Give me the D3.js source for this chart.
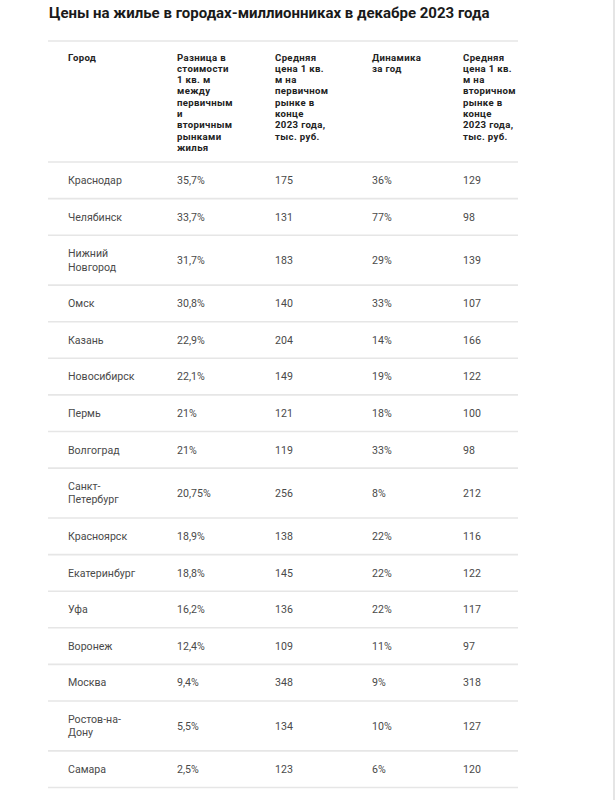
<!DOCTYPE html>
<html><head><meta charset="utf-8">
<script src="https://cdn.jsdelivr.net/npm/d3@7"></script>
<style>html,body{margin:0;padding:0;background:#fff;}</style>
</head><body>
<svg id="chart" width="616" height="800"></svg>
<script>
const title = "Цены на жилье в городах-миллионниках в декабре 2023 года";
const headers = [
  ["Город"],
  ["Разница в","стоимости","1 кв. м","между","первичным","и","вторичным","рынками","жилья"],
  ["Средняя","цена 1 кв.","м на","первичном","рынке в","конце","2023 года,","тыс. руб."],
  ["Динамика","за год"],
  ["Средняя","цена 1 кв.","м на","вторичном","рынке в","конце","2023 года,","тыс. руб."]
];
const cities = ["Краснодар","Челябинск","Нижний Новгород","Омск","Казань","Новосибирск","Пермь","Волгоград","Санкт-Петербург","Красноярск","Екатеринбург","Уфа","Воронеж","Москва","Ростов-на-Дону","Самара"];
const priceGap = [35.7,33.7,31.7,30.8,22.9,22.1,21,21,20.75,18.9,18.8,16.2,12.4,9.4,5.5,2.5];
const primaryPrice = [175,131,183,140,204,149,121,119,256,138,145,136,109,348,134,123];
const yearChange = [36,77,29,33,14,19,18,33,8,22,22,22,11,9,10,6];
const secondaryPrice = [129,98,139,107,166,122,100,98,212,116,122,117,97,318,127,120];

const svg = d3.select("#chart");
const FONT = "Roboto, 'Liberation Sans', sans-serif";
const colX = [68,177,275,372,463];
const tableLeft = 48, tableRight = 518;
const headTop = 41, headBottom = 162;
const rowBase = 36.6, lineH = 13.3, cityWrap = 78;
const headFont = 9.6, headPitch = 11.3;

svg.append("defs").append("clipPath").attr("id","tclip")
  .append("rect").attr("x",0).attr("y",0).attr("width",tableRight).attr("height",800);

// right edge stripe
svg.append("line").attr("x1",614).attr("x2",614).attr("y1",0).attr("y2",800)
  .attr("stroke","#dcdcdc").attr("stroke-width",1.5);

svg.append("text").attr("x",49).attr("y",18).text(title)
  .attr("font-family",FONT).attr("font-weight",700).attr("font-size",15).attr("fill","#1a1a1a");

const fmtPct = v => String(v).replace(".", ",") + "%";

// measure & wrap city names
const meas = svg.append("text").attr("font-family",FONT).attr("font-size",10.6);
function wrap(s){
  const tokens = s.match(/[^\s-]+-?/g);
  const lines=[]; let cur="";
  tokens.forEach(t=>{
    const sep = (cur && !cur.endsWith("-")) ? " " : "";
    const test = cur + sep + t;
    meas.text(test);
    if (cur && meas.node().getComputedTextLength() > cityWrap){ lines.push(cur); cur=t; }
    else cur = test;
  });
  if (cur) lines.push(cur);
  return lines;
}
const rows = cities.map((c,i)=>({lines:wrap(c), i}));
meas.remove();

const heights = rows.map(r=>rowBase + (r.lines.length-1)*lineH);
const tops = d3.cumsum([0,...heights]).map(v=>v+headBottom);
const y = d3.scaleOrdinal().domain(d3.range(rows.length)).range(tops);

// grid lines
const lineYs = [headTop, ...tops];
svg.selectAll("line.grid").data(lineYs).join("line").attr("class","grid")
  .attr("x1",tableLeft).attr("x2",tableRight).attr("y1",d=>d).attr("y2",d=>d)
  .attr("stroke","#e6e6e6").attr("stroke-width",1.6);

// header: one text element per cell, lines as tspans
svg.selectAll("text.head").data(headers).join("text").attr("class","head")
  .attr("clip-path","url(#tclip)")
  .attr("x",(d,j)=>colX[j]).attr("y",60.5)
  .attr("font-family",FONT).attr("font-weight",700).attr("font-size",headFont)
  .attr("letter-spacing",0.35).attr("fill","#222")
  .each(function(lines,j){
    d3.select(this).selectAll("tspan").data(lines).join("tspan")
      .attr("x",colX[j]).attr("dy",(d,k)=>k===0?0:headPitch).text(d=>d);
  });

// body
const g = svg.selectAll("g.row").data(rows).join("g").attr("class","row");
g.each(function(r){
  const i=r.i, mid = y(i) + heights[i]/2;
  const sel = d3.select(this);
  const n = r.lines.length;
  sel.append("text").attr("class","city")
    .attr("x",colX[0]).attr("y",mid - (n-1)/2*lineH)
    .selectAll("tspan").data(r.lines).join("tspan")
    .attr("x",colX[0]).attr("dy",(d,k)=>k===0?"0.35em":lineH).text(d=>d);
  const vals = [fmtPct(priceGap[i]), primaryPrice[i], yearChange[i]+"%", secondaryPrice[i]];
  sel.selectAll("text.val").data(vals).join("text").attr("class","val")
    .attr("x",(d,k)=>colX[k+1]).attr("y",mid).attr("dy","0.35em").text(d=>d);
  sel.selectAll("text").attr("font-family",FONT).attr("font-size",10.6).attr("fill","#4a4a4a");
});
</script>
</body></html>
